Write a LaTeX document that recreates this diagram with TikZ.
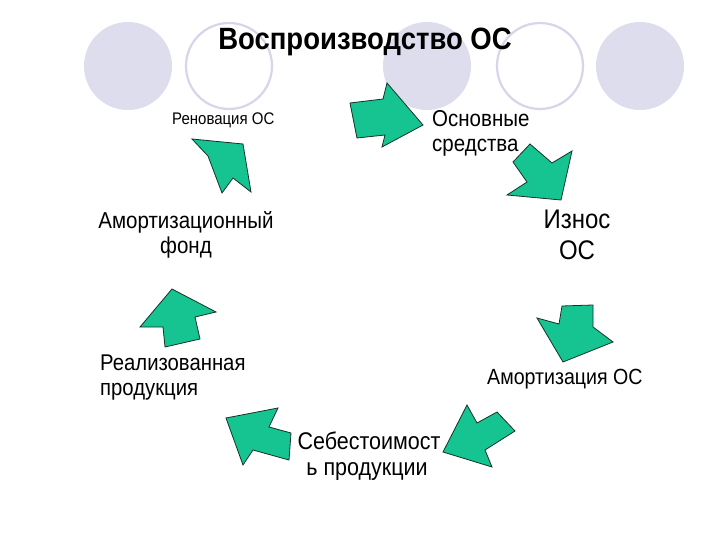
\documentclass[tikz,border=0pt]{standalone}
\usepackage{fontspec}
\usepackage{graphicx}
\setmainfont{Liberation Sans}
\definecolor{lav}{RGB}{221,221,238}
\definecolor{lavline}{RGB}{214,214,234}
\definecolor{arrowgreen}{RGB}{22,196,146}
\definecolor{arrowline}{RGB}{20,50,40}
\newcommand{\tallt}[1]{\scalebox{1}[1.12]{#1}}
\tikzset{
  bgfill/.style={fill=lav, draw=none},
  bgring/.style={draw=lavline, line width=2.2pt, fill=white},
  garrow/.style={fill=arrowgreen, draw=arrowline, line width=0.8pt, line join=miter},
  lbl/.style={inner sep=0pt, text=black},
}
\begin{document}
\begin{tikzpicture}[x=1pt,y=-1pt]
\useasboundingbox[fill=white] (0,0) rectangle (720,540);
% background circles
\fill[bgfill] (128,66) circle[x radius=44, y radius=44];
\draw[bgring] (229,66) circle[x radius=43, y radius=43];
\fill[bgfill] (427,66) circle[x radius=44, y radius=44];
\draw[bgring] (540,66) circle[x radius=43, y radius=43];
\fill[bgfill] (640,66) circle[x radius=44, y radius=44];
% title
\node[lbl, anchor=base, font=\fontsize{27.5}{30}\selectfont\bfseries] (title) at (365,50) {\tallt{Воспроизводство ОС}};
% labels
\node[lbl, anchor=base west, font=\fontsize{15}{18}\selectfont] (renov) at (172,125) {\tallt{Реновация ОС}};
\node[lbl, anchor=base west, font=\fontsize{20.5}{25}\selectfont] (os1) at (432,127) {\tallt{Основные}};
\node[lbl, anchor=base west, font=\fontsize{20.5}{25}\selectfont] (os2) at (432,152) {\tallt{средства}};
\node[lbl, anchor=base, font=\fontsize{20.5}{25}\selectfont] (af1) at (186,229) {\tallt{Амортизационный}};
\node[lbl, anchor=base, font=\fontsize{20.5}{25}\selectfont] (af2) at (186,253) {\tallt{фонд}};
\node[lbl, anchor=base, font=\fontsize{24}{30}\selectfont] (iz1) at (577,229) {\tallt{Износ}};
\node[lbl, anchor=base, font=\fontsize{24}{30}\selectfont] (iz2) at (577,259) {\tallt{ОС}};
\node[lbl, anchor=base west, font=\fontsize{20.3}{25}\selectfont] (rp1) at (100,370) {\tallt{Реализованная}};
\node[lbl, anchor=base west, font=\fontsize{20.3}{25}\selectfont] (rp2) at (100,395) {\tallt{продукция}};
\node[lbl, anchor=base west, font=\fontsize{19.6}{24}\selectfont] (am) at (487,384) {\tallt{Амортизация ОС}};
\node[lbl, anchor=base, font=\fontsize{21.5}{26}\selectfont] (sb1) at (369,449) {\tallt{Себестоимост}};
\node[lbl, anchor=base, font=\fontsize{21.5}{26}\selectfont] (sb2) at (367,475) {\tallt{ь продукции}};
% arrows
\draw[garrow] (350,103) -- (383,99) -- (387,83) -- (423,125) -- (382,147) -- (385,135) -- (357,138) -- cycle;
\draw[garrow] (530,144) -- (552,163) -- (572,151) -- (561,200) -- (507,195) -- (527,182) -- (513,162) -- cycle;
\draw[garrow] (562,306) -- (593,305) -- (593,327) -- (613,342) -- (563,362) -- (537,318) -- (559,324) -- cycle;
\draw[garrow] (467,405) -- (477,423) -- (497,412) -- (515,431) -- (485,450) -- (492,467) -- (443,452) -- cycle;
\draw[garrow] (226,418) -- (278,408) -- (269,427) -- (291,433) -- (289,460) -- (253,450) -- (243,465) -- cycle;
\draw[garrow] (172,289) -- (216,312) -- (195,317) -- (200,339) -- (165,347) -- (163,327) -- (140,327) -- cycle;
\draw[garrow] (192,139) -- (243,144) -- (251,192) -- (233,178) -- (222,193) -- (208,156) -- cycle;
\end{tikzpicture}
\end{document}
